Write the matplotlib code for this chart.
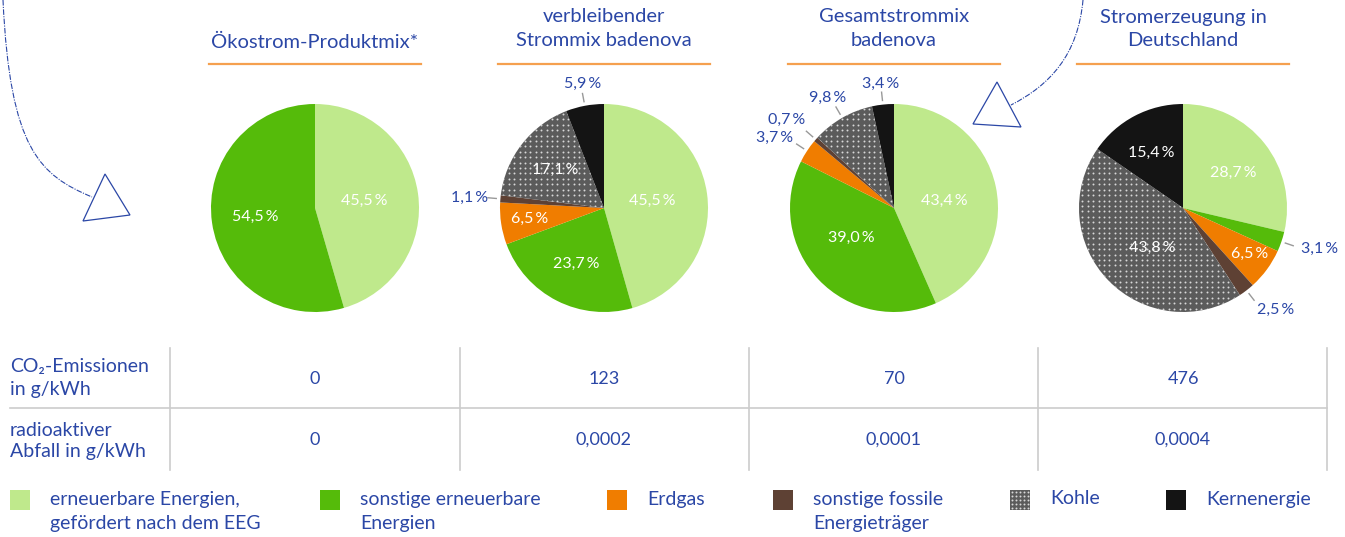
import numpy as np
import matplotlib
matplotlib.use("Agg")
import matplotlib.pyplot as plt
from matplotlib.path import Path
from matplotlib.patches import PathPatch, Polygon, Rectangle

plt.rcParams['font.family'] = ['Lato', 'DejaVu Sans']

# data
titles = ["Ökostrom-Produktmix*", "verbleibender\nStrommix badenova",
          "Gesamtstrommix\nbadenova", "Stromerzeugung in\nDeutschland"]
sources = ["erneuerbare Energien,\ngefördert nach dem EEG", "sonstige erneuerbare\nEnergien",
           "Erdgas", "sonstige fossile\nEnergieträger", "Kohle", "Kernenergie"]
oekostrom = [45.5, 54.5]
verbleibend = [45.5, 23.7, 6.5, 1.1, 17.1, 5.9]
gesamt = [43.4, 39.0, 3.7, 0.7, 9.8, 3.4]
deutschland = [28.7, 3.1, 6.5, 2.5, 43.8, 15.4]
co2_labels = ["CO₂-Emissionen", "in g/kWh"]
co2 = ["0", "123", "70", "476"]
abfall_labels = ["radioaktiver", "Abfall in g/kWh"]
abfall = ["0", "0,0002", "0,0001", "0,0004"]

# styles
colors = ["#bfe98c", "#55bb0a", "#f07d00", "#5e4134", "#5b5b5b", "#141414"]
blue = "#2b47a6"
orange = "#f5a04f"
grid = "#cccccc"
KOHLE = 4

# label layout: inner -> (radius, angle nudge), outer -> text position
inner = [
    {0: (0.48, 0), 1: (0.58, 0)},
    {0: (0.47, 0), 1: (0.6, 0), 2: (0.72, 0), 4: (0.6, 0)},
    {0: (0.49, -4), 1: (0.5, -8)},
    {0: (0.59, -3), 2: (0.78, 2), 4: (0.49, 8), 5: (0.61, 2)},
]
outer = [
    {},
    {3: (-1.29, 0.10), 5: (-0.21, 1.19)},
    {2: (-1.15, 0.67), 3: (-1.03, 0.85), 4: (-0.64, 1.06), 5: (-0.13, 1.19)},
    {1: (1.31, -0.39), 3: (0.89, -0.98)},
]

W, H = 1345, 537
R = 104
centers = [315, 604, 894, 1183]
cy = 208

fig = plt.figure(figsize=(W / 100, H / 100), dpi=100)
bg = fig.add_axes([0, 0, 1, 1])
bg.set_xlim(0, W)
bg.set_ylim(H, 0)
bg.axis("off")


def fmt(v):
    return ("%.1f" % v).replace(".", ",") + "\u2009%"


def dots(ax, x0, x1, y0, y1, step, clip):
    gx, gy = np.meshgrid(np.arange(x0, x1, step), np.arange(y0, y1, step))
    sc = ax.scatter(gx.ravel(), gy.ravel(), s=2.0, color="#d8d8d8", linewidths=0, zorder=3)
    sc.set_clip_path(clip)


half = 150
for i, vals in enumerate([oekostrom, verbleibend, gesamt, deutschland]):
    cx = centers[i]
    ax = fig.add_axes([(cx - half) / W, (H - cy - half) / H, 2 * half / W, 2 * half / H])
    wedges, _ = ax.pie(vals, colors=colors[:len(vals)], startangle=90, counterclock=False,
                       radius=1, wedgeprops=dict(linewidth=0))
    lim = half / R
    ax.set_xlim(-lim, lim)
    ax.set_ylim(-lim, lim)
    ax.axis("off")
    if len(vals) > KOHLE:
        dots(ax, -1.02, 1.05, -1.02, 1.05, 0.052, wedges[KOHLE])
    for j, w in enumerate(wedges):
        mid = np.deg2rad((w.theta1 + w.theta2) / 2)
        if j in inner[i]:
            r, nudge = inner[i][j]
            a = mid + np.deg2rad(nudge)
            ax.text(r * np.cos(a), r * np.sin(a), fmt(vals[j]), color="white",
                    fontsize=11.5, ha="center", va="center", zorder=4)
        elif j in outer[i]:
            tx, ty = outer[i][j]
            ax.plot([1.04 * np.cos(mid), 1.12 * np.cos(mid)],
                    [1.04 * np.sin(mid), 1.12 * np.sin(mid)], color="#999999", lw=1)
            ax.text(tx, ty, fmt(vals[j]), color=blue, fontsize=11.5, ha="center", va="center")

    # title + orange rule
    lines = titles[i].split("\n")
    if len(lines) == 1:
        bg.text(cx, 42, lines[0], color=blue, fontsize=14.5, ha="center", va="center")
    else:
        bg.text(cx, 17, lines[0], color=blue, fontsize=14.5, ha="center", va="center")
        bg.text(cx, 41, lines[1], color=blue, fontsize=14.5, ha="center", va="center")
    bg.plot([cx - 106, cx + 106], [64, 64], color=orange, lw=1.6)

    # table values
    bg.text(cx, 379, co2[i], color=blue, fontsize=13, ha="center", va="center")
    bg.text(cx, 440, abfall[i], color=blue, fontsize=13, ha="center", va="center")

# table
for x in [170, 460, 749, 1038, 1327]:
    bg.plot([x, x], [348, 470], color=grid, lw=1.2)
bg.plot([10, 1327], [408, 408], color=grid, lw=1.2)
bg.text(10, 367, co2_labels[0], color=blue, fontsize=14, va="center")
bg.text(10, 390, co2_labels[1], color=blue, fontsize=14, va="center")
bg.text(10, 430, abfall_labels[0], color=blue, fontsize=14, va="center")
bg.text(10, 452, abfall_labels[1], color=blue, fontsize=14, va="center")

# legend
legend_x = [10, 320, 607, 773, 1010, 1166]
for k, lx in enumerate(legend_x):
    sq = Rectangle((lx, 490), 20, 20, facecolor=colors[k], edgecolor="none")
    bg.add_patch(sq)
    if k == KOHLE:
        dots(bg, lx + 2, lx + 20, 492, 510, 4, sq)
    parts = sources[k].split("\n")
    bg.text(lx + 40, 499, parts[0], color=blue, fontsize=14, va="center")
    if len(parts) > 1:
        bg.text(lx + 40, 523, parts[1], color=blue, fontsize=14, va="center")

# decorative dashed arrows
dash = (0, (5, 1.2, 1, 1.2))
left = Path([(3, 0), (10, 150), (40, 175), (92, 197)],
            [Path.MOVETO, Path.CURVE4, Path.CURVE4, Path.CURVE4])
bg.add_patch(PathPatch(left, facecolor="none", edgecolor=blue, lw=0.8, linestyle=dash))
bg.add_patch(Polygon([(105, 174), (130, 215), (83, 221)], closed=True, facecolor="none",
                     edgecolor=blue, lw=0.9))
right = Path([(1083, 0), (1078, 55), (1050, 85), (1011, 105)],
             [Path.MOVETO, Path.CURVE4, Path.CURVE4, Path.CURVE4])
bg.add_patch(PathPatch(right, facecolor="none", edgecolor=blue, lw=0.8, linestyle=dash))
bg.add_patch(Polygon([(997, 82), (1021, 127), (973, 124)], closed=True, facecolor="none",
                     edgecolor=blue, lw=0.9))

fig.savefig("out.png", dpi=100)
